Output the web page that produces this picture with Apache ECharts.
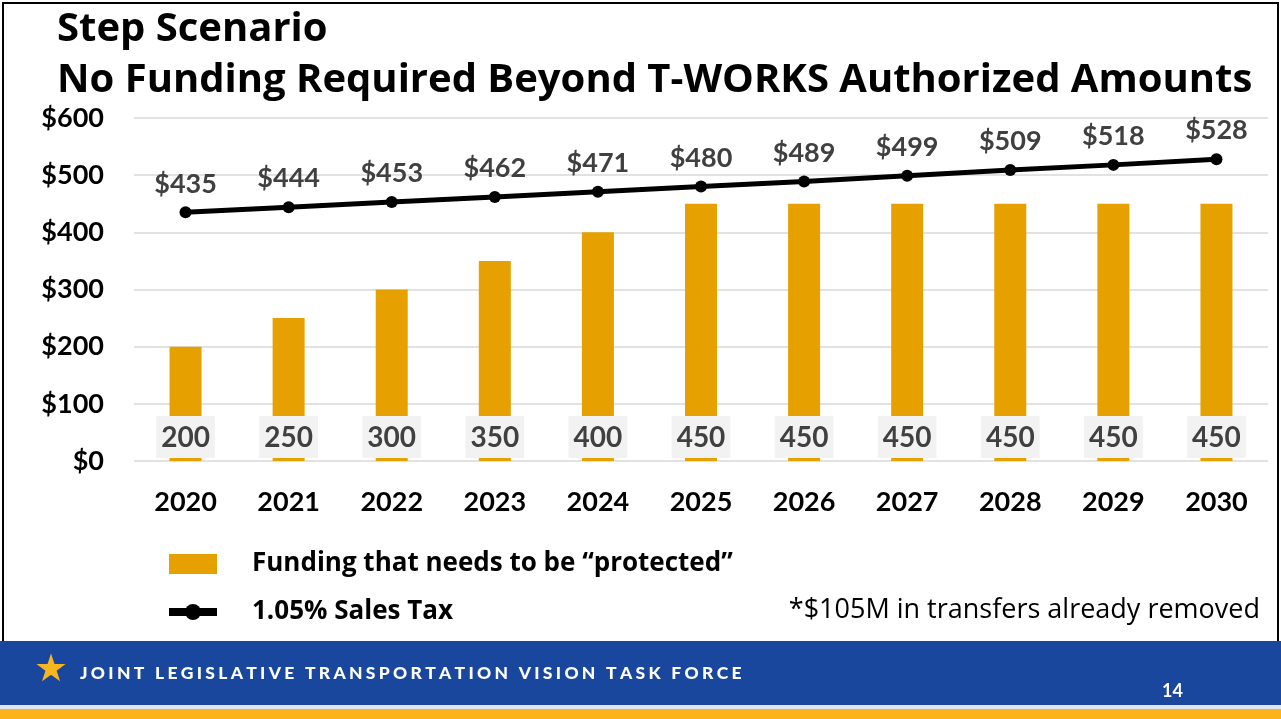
<!DOCTYPE html>
<html>
<head>
<meta charset="utf-8">
<script src="https://cdn.jsdelivr.net/npm/echarts@6/dist/echarts.min.js"></script>
<style>
  html, body { margin: 0; padding: 0; background: #fff; }
  #main { width: 1281px; height: 719px; }
</style>
</head>
<body>
<div id="main"></div>
<script>
// 数据
var years = ["2020", "2021", "2022", "2023", "2024", "2025", "2026", "2027", "2028", "2029", "2030"];
var protectedFunding = [200, 250, 300, 350, 400, 450, 450, 450, 450, 450, 450];
var salesTax = [435, 444, 453, 462, 471, 480, 489, 499, 509, 518, 528];
var yTicks = [0, 100, 200, 300, 400, 500, 600];

(function () {
    var myChart = echarts.init(document.getElementById("main"));
    var font = "Lato, 'Open Sans', sans-serif";
    var wide = "'Open Sans', Lato, sans-serif";
    // 底部文字加字距
    var footerText = "JOINT LEGISLATIVE TRANSPORTATION VISION TASK FORCE".split("").join("\u2009\u200a");

    var option = {
        animation: false,
        textStyle: { fontFamily: font },
        grid: {
            left: 134,
            right: 13,
            top: 118,
            bottom: 258
        },
        legend: {
            orient: "vertical",
            left: 160,
            top: 546,
            itemWidth: 48,
            itemHeight: 20,
            itemGap: 22,
            data: [
                { name: "Funding that needs to be \u201cprotected\u201d", icon: "rect" },
                { name: "1.05% Sales Tax", lineStyle: { width: 8, color: "#000" } }
            ],
            textStyle: {
                fontFamily: wide,
                fontWeight: "bold",
                fontSize: 26,
                color: "#000",
                padding: [0, 0, 0, 30]
            }
        },
        xAxis: {
            type: "category",
            data: years,
            axisLine: { show: false },
            axisTick: { show: false },
            axisLabel: {
                color: "#000",
                fontWeight: "bold",
                fontSize: 27,
                margin: 28
            }
        },
        yAxis: {
            type: "value",
            min: yTicks[0],
            max: yTicks[yTicks.length - 1],
            interval: 100,
            axisLabel: {
                color: "#000",
                fontWeight: "bold",
                fontSize: 27,
                margin: 30,
                formatter: "${value}"
            },
            splitLine: {
                lineStyle: { color: "#d9d9d9", width: 1.5 }
            }
        },
        series: [
            {
                name: "Funding that needs to be \u201cprotected\u201d",
                type: "bar",
                barWidth: 32,
                data: protectedFunding,
                itemStyle: { color: "#e6a100" },
                label: {
                    show: true,
                    position: "insideBottom",
                    distance: 3,
                    color: "#404040",
                    fontWeight: "bold",
                    fontSize: 28,
                    backgroundColor: "#f2f2f2",
                    padding: [8, 5, 6, 5]
                }
            },
            {
                name: "1.05% Sales Tax",
                type: "line",
                data: salesTax,
                symbol: "circle",
                symbolSize: 12,
                lineStyle: { color: "#000", width: 5 },
                itemStyle: { color: "#000" },
                label: {
                    show: true,
                    position: "top",
                    distance: 9,
                    color: "#404040",
                    fontWeight: "bold",
                    fontSize: 27,
                    formatter: "${c}"
                }
            }
        ],
        graphic: [
            // 边框
            {
                type: "rect",
                shape: { x: 3, y: 3, width: 1275, height: 640 },
                style: { fill: "none", stroke: "#000", lineWidth: 2 },
                z: -1
            },
            {
                type: "text",
                style: {
                    x: 57, y: 30,
                    verticalAlign: "middle",
                    text: "Step Scenario",
                    font: "bold 40px " + wide,
                    fill: "#000"
                }
            },
            {
                type: "text",
                style: {
                    x: 57, y: 81,
                    verticalAlign: "middle",
                    text: "No Funding Required Beyond T-WORKS Authorized Amounts",
                    font: "bold 40px " + wide,
                    fill: "#000"
                }
            },
            {
                type: "text",
                style: {
                    x: 1260, y: 610,
                    align: "right",
                    verticalAlign: "middle",
                    text: "*$105M in transfers already removed",
                    font: "27px " + wide,
                    fill: "#000"
                }
            },
            // 底部
            {
                type: "rect",
                shape: { x: 0, y: 641, width: 1281, height: 65 },
                style: { fill: "#1a479e" }
            },
            {
                type: "rect",
                shape: { x: 0, y: 705, width: 1281, height: 4 },
                style: { fill: "#dfe4ee" }
            },
            {
                type: "rect",
                shape: { x: 0, y: 709, width: 1281, height: 10 },
                style: { fill: "#fbb21b" }
            },
            {
                type: "text",
                style: {
                    x: 51, y: 671,
                    align: "center",
                    verticalAlign: "middle",
                    text: "\u2605",
                    font: "38px 'DejaVu Sans'",
                    fill: "#f7b51f"
                }
            },
            {
                type: "text",
                style: {
                    x: 80, y: 673,
                    verticalAlign: "middle",
                    text: footerText,
                    font: "900 17.5px " + font,
                    fill: "#fff"
                }
            },
            {
                type: "text",
                style: {
                    x: 1162, y: 691,
                    verticalAlign: "middle",
                    text: "14",
                    font: "bold 18px " + font,
                    fill: "#fff"
                }
            }
        ]
    };

    myChart.setOption(option);
    window.addEventListener("resize", function () {
        myChart.resize();
    });
})();
</script>
</body>
</html>
